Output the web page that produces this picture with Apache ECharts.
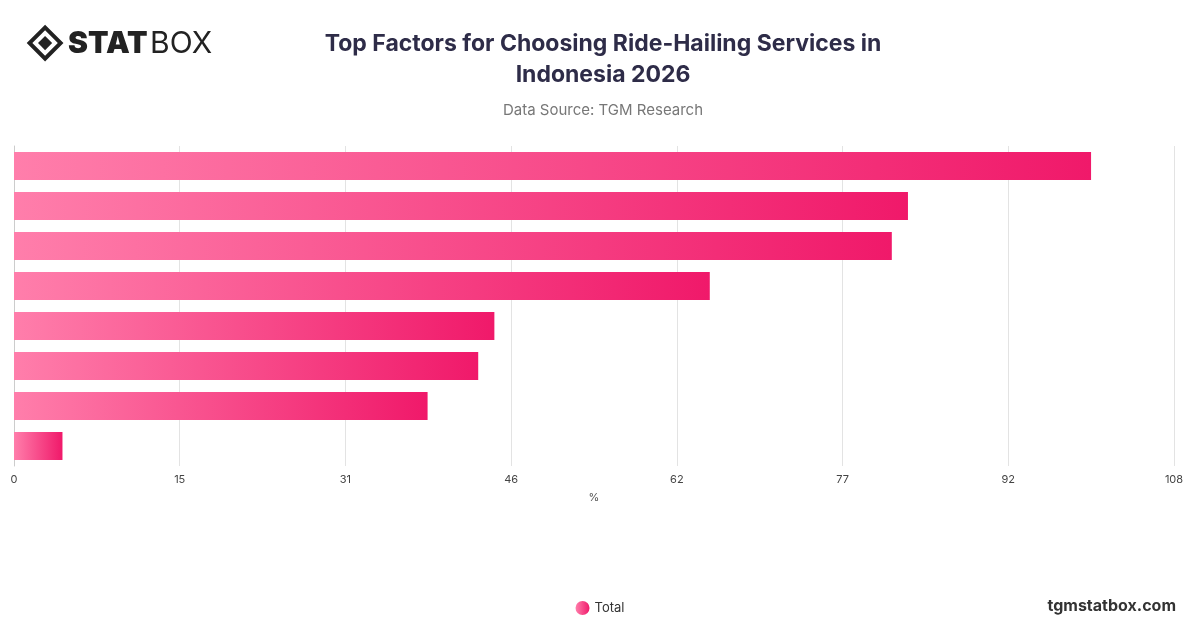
<!DOCTYPE html>
<html>
<head>
<meta charset="utf-8">
<script src="https://cdn.jsdelivr.net/npm/echarts@6/dist/echarts.min.js"></script>
<style>
  html, body { margin: 0; padding: 0; background: #fff; }
  #chart { width: 1200px; height: 628px; }
</style>
</head>
<body>
<div id="chart"></div>
<script>
// Category names are not shown in the picture (axis labels hidden)
const categories = ['Factor 1', 'Factor 2', 'Factor 3', 'Factor 4', 'Factor 5', 'Factor 6', 'Factor 7', 'Factor 8'];
const totalValues = [100, 83.0, 81.5, 64.6, 44.6, 43.1, 38.4, 4.5];
const axisMax = 107.7;

const chart = echarts.init(document.getElementById('chart'));

chart.setOption({
  animation: false,
  title: {
    text: 'Top Factors for Choosing Ride-Hailing Services in\nIndonesia 2026',
    subtext: 'Data Source: TGM Research',
    left: 598,
    top: 24,
    textAlign: 'center',
    itemGap: 12,
    textStyle: { fontFamily: 'Inter', fontSize: 23, fontWeight: 'bold', color: '#2e2c48', lineHeight: 31 },
    subtextStyle: { fontFamily: 'Inter', fontSize: 15, color: '#777' },
  },
  graphic: [
    {
      type: 'group',
      left: 26,
      top: 24,
      children: [
        { type: 'rect', shape: { x: 4, y: 4, width: 22, height: 22 }, rotation: Math.PI / 4, originX: 15, originY: 15,
          style: { fill: 'none', stroke: '#222', lineWidth: 4 } },
        { type: 'rect', shape: { x: 10, y: 10, width: 10, height: 10 }, rotation: Math.PI / 4, originX: 15, originY: 15,
          style: { fill: '#222' } },
        { type: 'text', x: 38, y: 1, style: { text: 'STAT', font: '900 30px Inter', fill: '#222' } },
        { type: 'text', x: 120, y: 1, style: { text: 'BOX', font: '400 30px Inter', fill: '#222' } },
      ],
    },
    {
      type: 'text', right: 24, top: 598,
      style: { text: 'tgmstatbox.com', font: 'bold 16px Inter', fill: '#333' },
    },
  ],
  legend: {
    bottom: 8,
    left: 'center',
    icon: 'circle',
    itemWidth: 14,
    itemHeight: 14,
    textStyle: { fontFamily: 'Inter', fontSize: 13, color: '#333' },
    data: ['Total'],
  },
  grid: { left: 14, right: 26, top: 146, bottom: 162, containLabel: false },
  xAxis: {
    type: 'value',
    min: 0,
    max: axisMax,
    interval: axisMax / 7,
    name: '%',
    nameLocation: 'middle',
    nameGap: 26,
    nameTextStyle: { fontFamily: 'Inter', fontSize: 11, color: '#555' },
    axisLabel: { fontFamily: 'Inter', fontSize: 11, color: '#444', formatter: v => Math.round(v) },
    splitLine: { lineStyle: { color: '#e3e3e3' } },
    axisLine: { show: false },
    axisTick: { show: false },
  },
  yAxis: {
    type: 'category',
    data: categories,
    inverse: true,
    axisLabel: { show: false },
    axisTick: { show: false },
    axisLine: { show: true, lineStyle: { color: '#ccc' } },
  },
  series: [
    {
      name: 'Total',
      type: 'bar',
      data: totalValues,
      barWidth: 28,
      itemStyle: {
        color: new echarts.graphic.LinearGradient(0, 0, 1, 0, [
          { offset: 0, color: '#ff7eab' },
          { offset: 1, color: '#f0196a' },
        ]),
      },
    },
  ],
});
</script>
</body>
</html>
